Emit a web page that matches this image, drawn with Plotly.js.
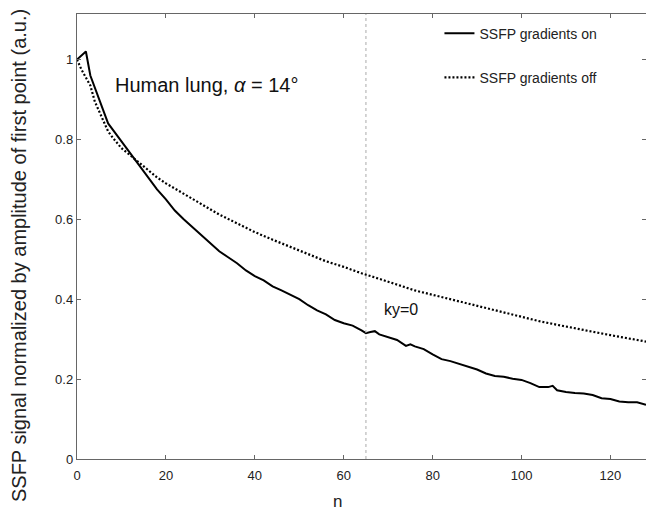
<!DOCTYPE html>
<html>
<head>
<meta charset="utf-8">
<script src="https://cdn.plot.ly/plotly-3.0.1.min.js"></script>
<style>html,body{margin:0;padding:0;background:#fff;}#chart{width:646px;height:515px;}</style>
</head>
<body>
<div id="chart"></div>
<script>
// ---- data ----
const nOn = [0,1,2,3,4,5,6,7,8,9,10,12,14,16,18,20,22,24,26,28,30,32,34,36,38,40,42,44,46,48,50,52,54,56,58,60,62,64,65,66,67,68,70,72,74,75,76,78,80,82,84,86,88,90,92,94,96,98,100,102,104,106,107,108,110,112,114,116,118,120,122,124,126,128];
const sigOn = [1.00,1.01,1.02,0.96,0.93,0.905,0.875,0.84,0.825,0.81,0.795,0.765,0.735,0.705,0.675,0.650,0.622,0.600,0.580,0.560,0.540,0.520,0.505,0.490,0.472,0.458,0.447,0.432,0.422,0.410,0.400,0.385,0.372,0.362,0.348,0.340,0.334,0.322,0.315,0.318,0.320,0.312,0.305,0.298,0.283,0.287,0.282,0.275,0.262,0.250,0.245,0.238,0.232,0.224,0.214,0.208,0.206,0.201,0.198,0.190,0.180,0.180,0.183,0.172,0.168,0.165,0.164,0.160,0.152,0.150,0.144,0.142,0.142,0.136];
const nOff = [0,1,2,3,4,5,6,7,8,9,10,12,14,16,18,20,22,24,26,28,30,32,34,36,38,40,44,48,52,56,60,64,68,72,76,80,84,88,92,96,100,104,108,112,116,120,124,128];
const sigOff = [1.00,0.975,0.955,0.935,0.895,0.87,0.845,0.82,0.805,0.79,0.778,0.760,0.742,0.723,0.705,0.690,0.677,0.665,0.651,0.638,0.624,0.612,0.601,0.590,0.579,0.568,0.549,0.531,0.513,0.495,0.481,0.465,0.451,0.436,0.422,0.411,0.400,0.389,0.377,0.366,0.356,0.345,0.336,0.327,0.318,0.310,0.302,0.294];
const seriesNames = ["SSFP gradients on", "SSFP gradients off"];
const xTicks = [0,20,40,60,80,100,120];
const yTicks = [0,0.2,0.4,0.6,0.8,1];
const yTickText = ["0","0.2","0.4","0.6","0.8","1"];
const kyZeroN = 65;
const FONT = "'Liberation Sans', Arial, sans-serif";

const traces = [
  {x:nOn, y:sigOn, mode:"lines", name:seriesNames[0], legendgroup:"a",
   line:{color:"#000", width:2}},
  {x:nOff, y:sigOff, mode:"lines", name:seriesNames[1], legendgroup:"b",
   line:{color:"#000", width:2.2, dash:"2px,2px"}}
];

const axisCommon = {
  showgrid:false, zeroline:false, showline:true, linecolor:"#666", linewidth:1.2,
  ticks:"inside", ticklen:4, tickcolor:"#666", mirror:"ticks",
  tickfont:{family:FONT, size:13, color:"#222"}
};

const layout = {
  width:646, height:515,
  margin:{l:77, r:0, t:14, b:56},
  paper_bgcolor:"#fff", plot_bgcolor:"#fff",
  font:{family:FONT, color:"#222"},
  xaxis:Object.assign({}, axisCommon, {range:[0,128], tickvals:xTicks, ticklabelstandoff:4}),
  yaxis:Object.assign({}, axisCommon, {range:[0,1.114], tickvals:yTicks, ticktext:yTickText}),
  showlegend:true,
  legend:{x:0.637, y:0.992, xanchor:"left", yanchor:"top", bgcolor:"rgba(0,0,0,0)",
          borderwidth:0, font:{family:FONT, size:14, color:"#222"},
          tracegroupgap:23, traceorder:"grouped"},
  shapes:[{type:"line", xref:"x", yref:"paper", x0:kyZeroN, x1:kyZeroN, y0:0, y1:1,
           line:{color:"#aaa", width:1, dash:"dot"}}],
  annotations:[
    {text:"Human lung, <i>α</i> = 14°", xref:"x", yref:"y", x:8, y:0.937,
     xanchor:"left", yanchor:"middle", showarrow:false,
     font:{family:FONT, size:20, color:"#111"}},
    {text:"ky=0", xref:"x", yref:"y", x:68.5, y:0.374,
     xanchor:"left", yanchor:"middle", showarrow:false,
     font:{family:FONT, size:16, color:"#111"}},
    {text:"SSFP signal normalized by amplitude of first point (a.u.)", xref:"paper", yref:"paper",
     x:-0.103, y:0.457, xanchor:"center", yanchor:"middle", textangle:-90, showarrow:false,
     font:{family:FONT, size:20, color:"#222"}},
    {text:"n", xref:"paper", yref:"paper", x:0.457, y:-0.096, xanchor:"center", yanchor:"middle",
     showarrow:false, font:{family:FONT, size:17, color:"#222"}}
  ]
};

Plotly.newPlot("chart", traces, layout, {displayModeBar:false, staticPlot:true});
</script>
</body>
</html>
